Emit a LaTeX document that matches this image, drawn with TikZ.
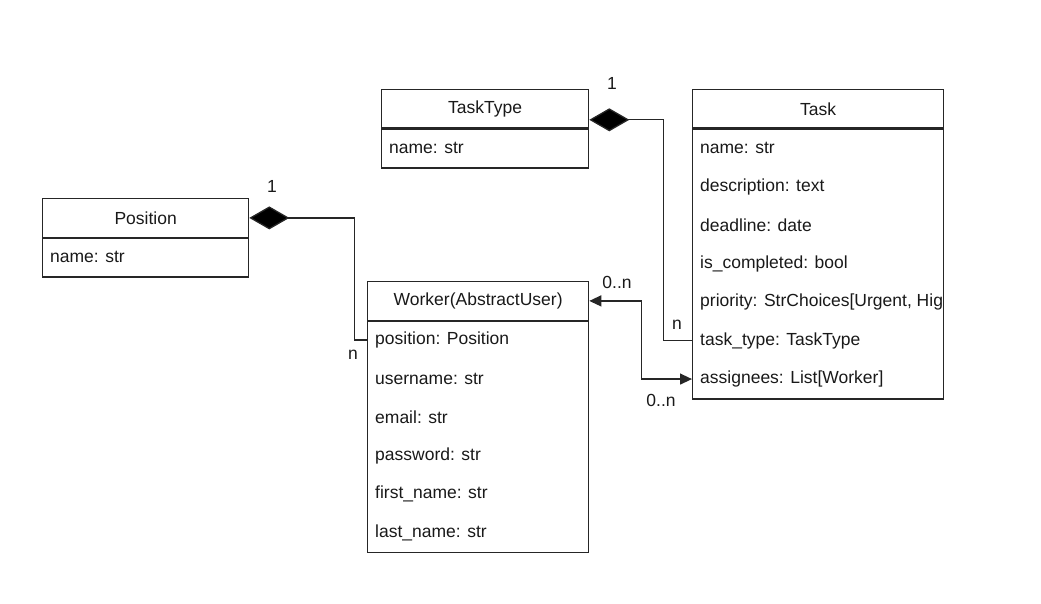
\documentclass[tikz,border=0pt]{standalone}
\usepackage{fontspec}
\setmainfont{Liberation Sans}
\usetikzlibrary{arrows.meta}

\tikzset{
  title/.style={draw=black!85, line width=1.3pt, anchor=north west, inner sep=0pt, minimum height=38.5pt},
  body/.style={draw=black!85, line width=1.3pt, anchor=north west, inner sep=0pt},
  attr/.style={anchor=west, inner sep=0pt},
  mult/.style={inner sep=0pt},
  link/.style={draw=black!85, line width=1.3pt},
  comp/.style={link, {Diamond[length=40pt,width=23pt,fill=black]}-},
  assoc/.style={link, {Triangle[length=12pt,width=11pt]}-{Triangle[length=12pt,width=11pt]}}
}

\begin{document}
\begin{tikzpicture}[x=1pt, y=-1pt, font=\fontsize{17.5}{21}\selectfont, text=black!90]
\useasboundingbox (0,0) rectangle (1041,604);

\node[title, minimum width=207pt] (tasktype) at (381,89) {TaskType};
\node[body, minimum width=207pt, minimum height=38.5pt] (tasktype-body) at (tasktype.south west) {};
\node[attr] (tasktype-name) at ([xshift=8pt,yshift=-19.25pt]tasktype-body.north west) {name: str};

\node[title, minimum width=206pt] (position) at (42,198) {Position};
\node[body, minimum width=206pt, minimum height=38.5pt] (position-body) at (position.south west) {};
\node[attr] (position-name) at ([xshift=8pt,yshift=-19.25pt]position-body.north west) {name: str};

\node[title, minimum width=221pt] (worker) at (367,281) {Worker(AbstractUser)};
\node[body, minimum width=221pt, minimum height=231pt] (worker-body) at (worker.south west) {};
\foreach \a/\t [count=\i] in {position/position: Position, username/username: str, email/email: str, password/password: str, firstname/first\_name: str, lastname/last\_name: str}{
	\node[attr] (worker-\a) at ([xshift=8pt,yshift={-(\i-0.5)*38.5pt}]worker-body.north west) {\t};
}

\node[title, minimum width=251pt] (task) at (692,89) {Task};
\node[body, minimum width=251pt, minimum height=269.5pt] (task-body) at (task.south west) {};
\begin{scope}
\clip (task-body.north west) rectangle ([xshift=-3pt]task-body.south east);
\foreach \a/\t [count=\i] in {name/name: str, description/description: text, deadline/deadline: date, completed/is\_completed: bool, priority/{priority: StrChoices[Urgent, High, Medium, Low]}, tasktype/task\_type: TaskType, assignees/assignees: List[Worker]}{
	\node[attr] (task-\a) at ([xshift=8pt,yshift={-(\i-0.5)*38.5pt}]task-body.north west) {\t};
}
\end{scope}

\draw[comp] ([yshift=9pt]tasktype.south east) -- ++(74,0) |- (task-tasktype.west -| task-body.west);
\draw[comp] (position.east) -- ++(105,0) |- (worker-position.west -| worker-body.west);
\draw[assoc] (worker.east) -- ++(52,0) |- (task-assignees.west -| task-body.west);

\node[mult] (tasktype-one) at (612,83) {1};
\node[mult] (tasktype-many) at (677,325) {n};
\node[mult] (position-one) at (272,186) {1};
\node[mult] (position-many) at (353,355) {n};
\node[mult] (worker-many) at (617,282) {0..n};
\node[mult] (assignees-many) at (661,400) {0..n};
\end{tikzpicture}
\end{document}
